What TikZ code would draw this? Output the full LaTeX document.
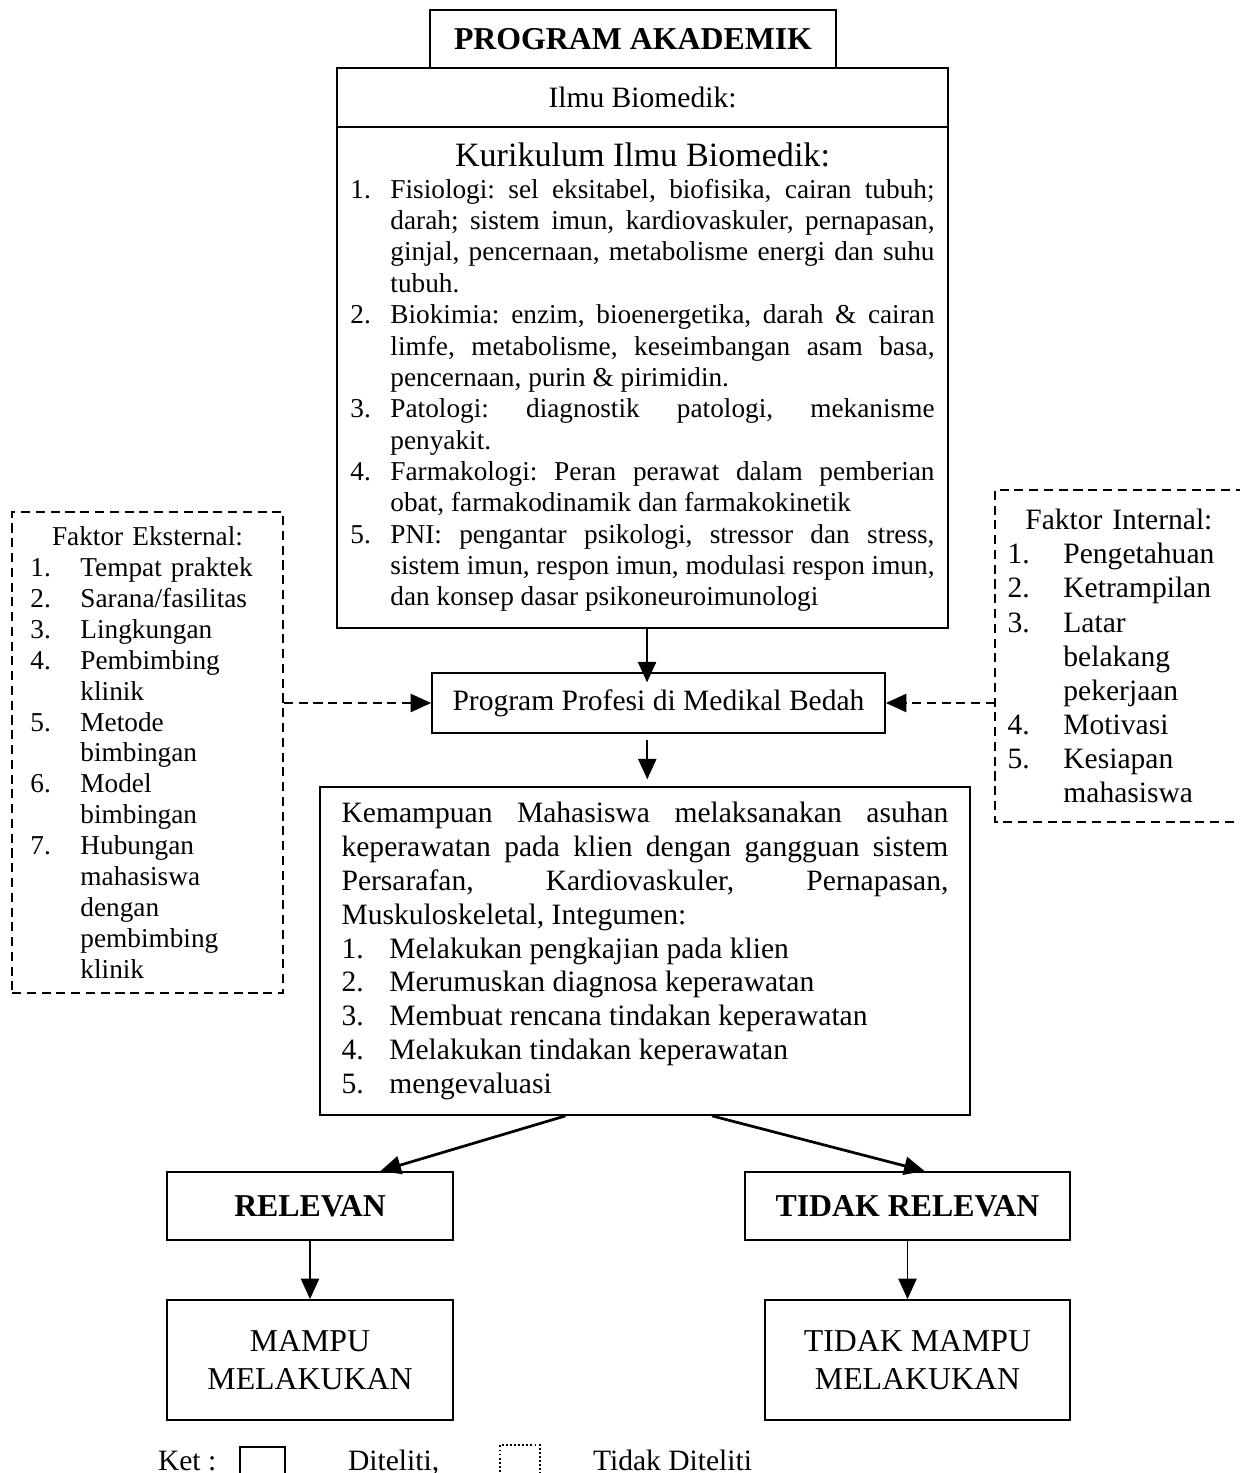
\documentclass[tikz,border=0pt]{standalone}
\usepackage{fontspec}
\setmainfont{Liberation Serif}
\usetikzlibrary{arrows.meta}
\newcommand\kitem[3]{\par\hangindent=#1\hangafter=1\noindent\makebox[#1][l]{#2}#3}
\newcommand\fitem[3]{\makebox[#1][l]{#2}#3}
\newcommand\fs[2]{\fontsize{#1}{#2}\selectfont}

\begin{document}
\begin{tikzpicture}[x=0.44pt,y=-0.44pt,
    every node/.style={font=\fs{12}{13.8}},
    box/.style={draw,thick,rectangle,inner sep=0pt},
    para/.style={box,align=justify,
        execute at begin node={\frenchspacing\hyphenpenalty=10000\exhyphenpenalty=10000}},
    lst/.style={align=left,inner ysep=0pt},
    arr/.style={thick,-{Triangle[length=9pt,width=8pt]}},
    darr/.style={arr,dash pattern=on 4pt off 2.5pt}]
\useasboundingbox (0,0) rectangle (1239,1473);

\node[box,minimum width=178.6pt,minimum height=25.5pt,font=\fs{14}{16}\bfseries] (akad) at (633,39) {PROGRAM AKADEMIK};
\node[box,minimum width=268.8pt,minimum height=26pt,font=\fs{13}{15}] (ilmu) at (642.5,97.5) {Ilmu Biomedik:};
\node[para,minimum width=268.8pt,minimum height=220.4pt,text width=257pt] (kur) at (642.5,377.5) {%
{\fs{15}{17}\makebox[257pt]{Kurikulum Ilmu Biomedik:}}
\kitem{17.6pt}{1.}{Fisiologi: sel eksitabel, biofisika, cairan tubuh;\linebreak darah; sistem imun, kardiovaskuler, pernapasan,\linebreak ginjal, pencernaan, metabolisme energi dan suhu\linebreak tubuh.}
\kitem{17.6pt}{2.}{Biokimia: enzim, bioenergetika, darah \& cairan\linebreak limfe, metabolisme, keseimbangan asam basa,\linebreak pencernaan, purin \& pirimidin.}
\kitem{17.6pt}{3.}{Patologi: diagnostik patologi, mekanisme\linebreak penyakit.}
\kitem{17.6pt}{4.}{Farmakologi: Peran perawat dalam pemberian\linebreak obat, farmakodinamik dan farmakokinetik}
\kitem{17.6pt}{5.}{PNI: pengantar psikologi, stressor dan stress,\linebreak sistem imun, respon imun, modulasi respon imun,\linebreak dan konsep dasar psikoneuroimunologi}\par};

\node[box,minimum width=199.3pt,minimum height=26.4pt,font=\fs{13}{15}] (prof) at (658.5,703) {Program Profesi di Medikal Bedah};

\node[para,minimum width=286pt,minimum height=144.3pt,text width=267pt,font=\fs{13}{14.9}] (kem) at (645,951) {%
Kemampuan Mahasiswa melaksanakan asuhan\linebreak keperawatan pada klien dengan gangguan sistem\linebreak Persarafan, Kardiovaskuler, Pernapasan,\linebreak Muskuloskeletal, Integumen:
\kitem{21pt}{1.}{Melakukan pengkajian pada klien}
\kitem{21pt}{2.}{Merumuskan diagnosa keperawatan}
\kitem{21pt}{3.}{Membuat rencana tindakan keperawatan}
\kitem{21pt}{4.}{Melakukan tindakan keperawatan}
\kitem{21pt}{5.}{mengevaluasi}\par};

\node[lst,draw,thick,dash pattern=on 4pt off 2.5pt,minimum width=119.2pt,minimum height=211.6pt,text width=103pt,font=\fs{12}{13.6}] (eks) at (147.5,752.5) {%
\makebox[103pt]{Faktor Eksternal:}\\
\fitem{22pt}{1.}{Tempat praktek}\\
\fitem{22pt}{2.}{Sarana/fasilitas}\\
\fitem{22pt}{3.}{Lingkungan}\\
\fitem{22pt}{4.}{Pembimbing}\\
\fitem{22pt}{}{klinik}\\
\fitem{22pt}{5.}{Metode}\\
\fitem{22pt}{}{bimbingan}\\
\fitem{22pt}{6.}{Model}\\
\fitem{22pt}{}{bimbingan}\\
\fitem{22pt}{7.}{Hubungan}\\
\fitem{22pt}{}{mahasiswa}\\
\fitem{22pt}{}{dengan}\\
\fitem{22pt}{}{pembimbing}\\
\fitem{22pt}{}{klinik}};

\node[lst,anchor=west,inner xsep=5.3pt,minimum height=146pt,text width=105pt,font=\fs{13}{15}] (intl) at (995,656) {%
\makebox[98pt]{Faktor Internal:}\\
\fitem{24.6pt}{1.}{Pengetahuan}\\
\fitem{24.6pt}{2.}{Ketrampilan}\\
\fitem{24.6pt}{3.}{Latar}\\
\fitem{24.6pt}{}{belakang}\\
\fitem{24.6pt}{}{pekerjaan}\\
\fitem{24.6pt}{4.}{Motivasi}\\
\fitem{24.6pt}{5.}{Kesiapan}\\
\fitem{24.6pt}{}{mahasiswa}};
\draw[thick,dash pattern=on 4pt off 2.5pt] (1245,0 |- intl.north west) -- (intl.north west) -- (intl.south west) -- (1245,0 |- intl.south west);

\node[box,minimum width=125.8pt,minimum height=30pt,font=\fs{14}{16}\bfseries] (rel) at (310,1206) {RELEVAN};
\node[box,minimum width=143pt,minimum height=30pt,font=\fs{14}{16}\bfseries] (trel) at (907.5,1206) {TIDAK RELEVAN};
\node[box,align=center,minimum width=125.8pt,minimum height=52.8pt,font=\fs{14}{16.5}] (mampu) at (310,1360) {MAMPU\\MELAKUKAN};
\node[box,align=center,minimum width=134.2pt,minimum height=52.8pt,font=\fs{14}{16.5}] (tmampu) at (917.5,1360) {TIDAK MAMPU\\MELAKUKAN};

\draw[arr,shorten >=-4.5pt] ([xshift=2pt]kur.south) -- ([xshift=2pt]kur.south |- prof.north);
\draw[arr,shorten <=2.5pt,shorten >=3pt] ([xshift=1pt]prof.south -| kem.north) -- ([xshift=1pt]kem.north);
\draw[darr] (eks.east |- prof.west) -- (prof.west);
\draw[darr] (intl.west |- prof.east) -- (prof.east);
\draw[arr,line width=1.2pt] ([xshift=-35pt]kem.south) -- ([xshift=31pt]rel.north);
\draw[arr,line width=1.2pt] ([xshift=29.5pt]kem.south) -- ([xshift=7.5pt]trel.north);
\draw[arr] (rel.south) -- (mampu.north);
\draw[arr] (trel.south) -- (trel.south |- tmampu.north);

\node[anchor=base west,font=\fs{13}{15}] (ket) at (150,1470) {Ket :};
\draw[thick] (240,1480) -- (240,1447) -- (285,1447) -- (285,1480);
\node[anchor=base west,font=\fs{13}{15}] (dit) at (340,1470) {Diteliti,};
\draw[thick,densely dotted] (500,1480) -- (500,1445) -- (540,1445) -- (540,1480);
\node[anchor=base west,font=\fs{13}{15}] (tdit) at (585,1470) {Tidak Diteliti};
\end{tikzpicture}
\end{document}
